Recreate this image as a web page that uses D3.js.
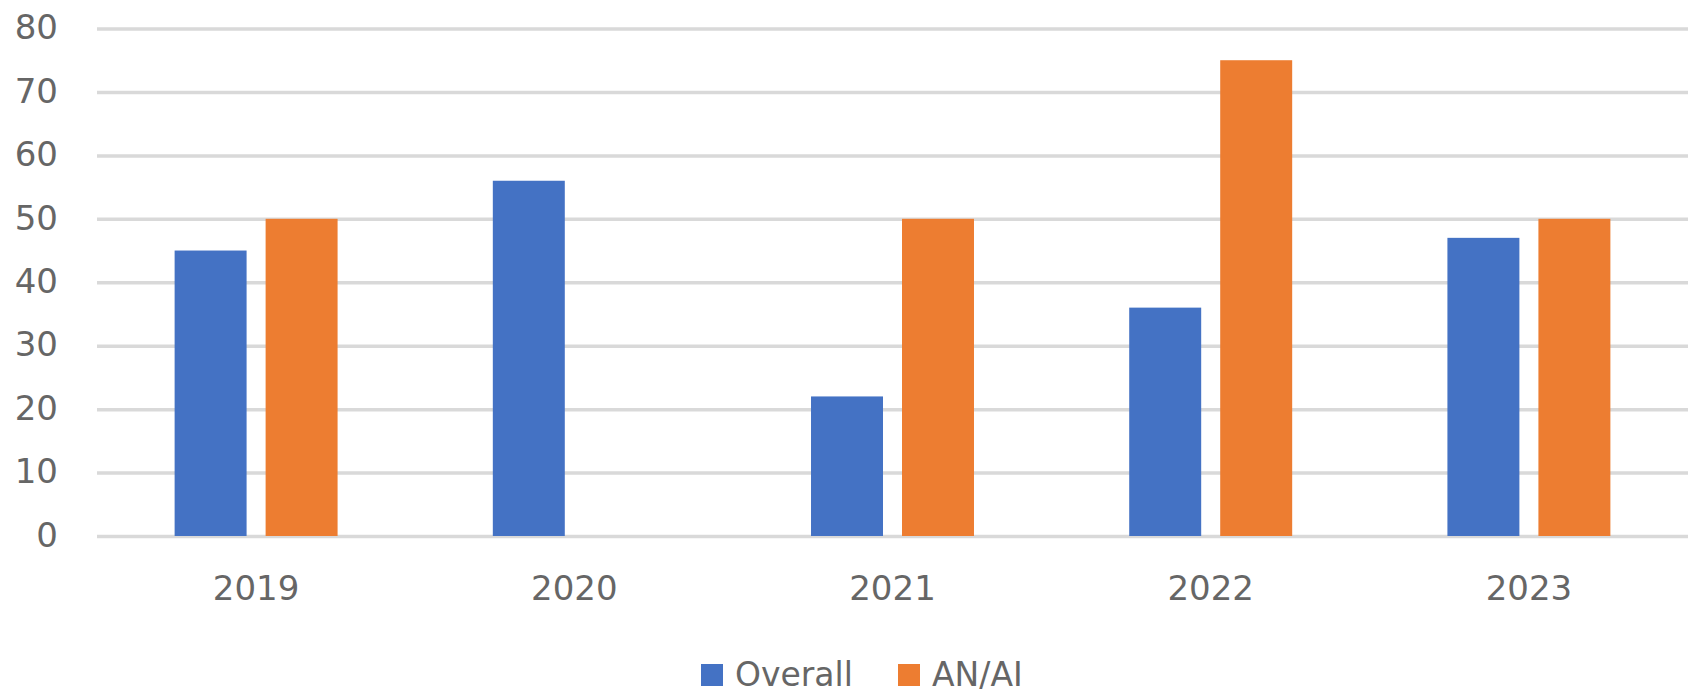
<!DOCTYPE html>
<html>
<head>
<meta charset="utf-8">
<script src="https://cdn.jsdelivr.net/npm/d3@7"></script>
<style>
  html, body { margin: 0; padding: 0; background: #ffffff; }
  svg { display: block; }
  text { font-family: "DejaVu Sans", sans-serif; fill: #666666; }
</style>
</head>
<body>
<svg id="chart" width="1691" height="695"></svg>
<script>
const years = ["2019", "2020", "2021", "2022", "2023"];
const seriesNames = ["Overall", "AN/AI"];
const overallValues = [45, 56, 22, 36, 47];
const anaiValues = [50, 0, 50, 75, 50];
const yTicks = [0, 10, 20, 30, 40, 50, 60, 70, 80];
const seriesColors = ["#4472C4", "#ED7D31"];

(function () {
const svg = d3.select("#chart");
const plotLeft = 97, plotRight = 1688, plotTop = 28.5, plotBottom = 536;
const fontSize = 34;

const x0 = d3.scaleBand().domain(years).range([plotLeft, plotRight]).padding(0);
const x1 = d3.scaleBand().domain(seriesNames).range([0, x0.bandwidth()])
  .paddingInner(0.209).paddingOuter(0.853);
const y = d3.scaleLinear().domain([0, 80]).range([plotBottom, plotTop]);
const color = d3.scaleOrdinal().domain(seriesNames).range(seriesColors);

// gridlines
const yAxis = d3.axisLeft(y).tickValues(yTicks).tickSize(-(plotRight - plotLeft)).tickPadding(39);
const gy = svg.append("g").attr("transform", `translate(${plotLeft},0)`).call(yAxis);
gy.select(".domain").remove();
gy.selectAll(".tick line").attr("stroke", "#d9d9d9").attr("stroke-width", 3.5);
gy.selectAll(".tick text")
  .style("font-size", fontSize + "px")
  .style("font-family", "'DejaVu Sans', sans-serif")
  .attr("fill", "#666666")
  .attr("dy", "0.3em");

// bars
const rows = years.map((yr, i) => ({ year: yr, values: [overallValues[i], anaiValues[i]] }));
const groups = svg.append("g").selectAll("g").data(rows).join("g")
  .attr("transform", d => `translate(${x0(d.year)},0)`);
groups.selectAll("rect")
  .data(d => seriesNames.map((s, j) => ({ key: s, value: d.values[j] })))
  .join("rect")
  .attr("x", d => x1(d.key))
  .attr("width", x1.bandwidth())
  .attr("y", d => y(d.value))
  .attr("height", d => y(0) - y(d.value))
  .attr("fill", d => color(d.key));

// x axis labels
const xAxis = d3.axisBottom(x0).tickSize(0).tickPadding(40);
const gx = svg.append("g").attr("transform", `translate(0,${plotBottom})`).call(xAxis);
gx.select(".domain").remove();
gx.selectAll(".tick text")
  .style("font-size", fontSize + "px")
  .style("font-family", "'DejaVu Sans', sans-serif")
  .attr("fill", "#666666");

// legend
const legendX = [701, 898];
const legend = svg.append("g");
seriesNames.forEach((s, i) => {
  const g = legend.append("g").attr("transform", `translate(${legendX[i]},664)`);
  g.append("rect").attr("width", 22).attr("height", 22).attr("fill", color(s));
  g.append("text").attr("x", 34).attr("y", 22)
    .style("font-size", "33px").text(s);
});
})();
</script>
</body>
</html>
